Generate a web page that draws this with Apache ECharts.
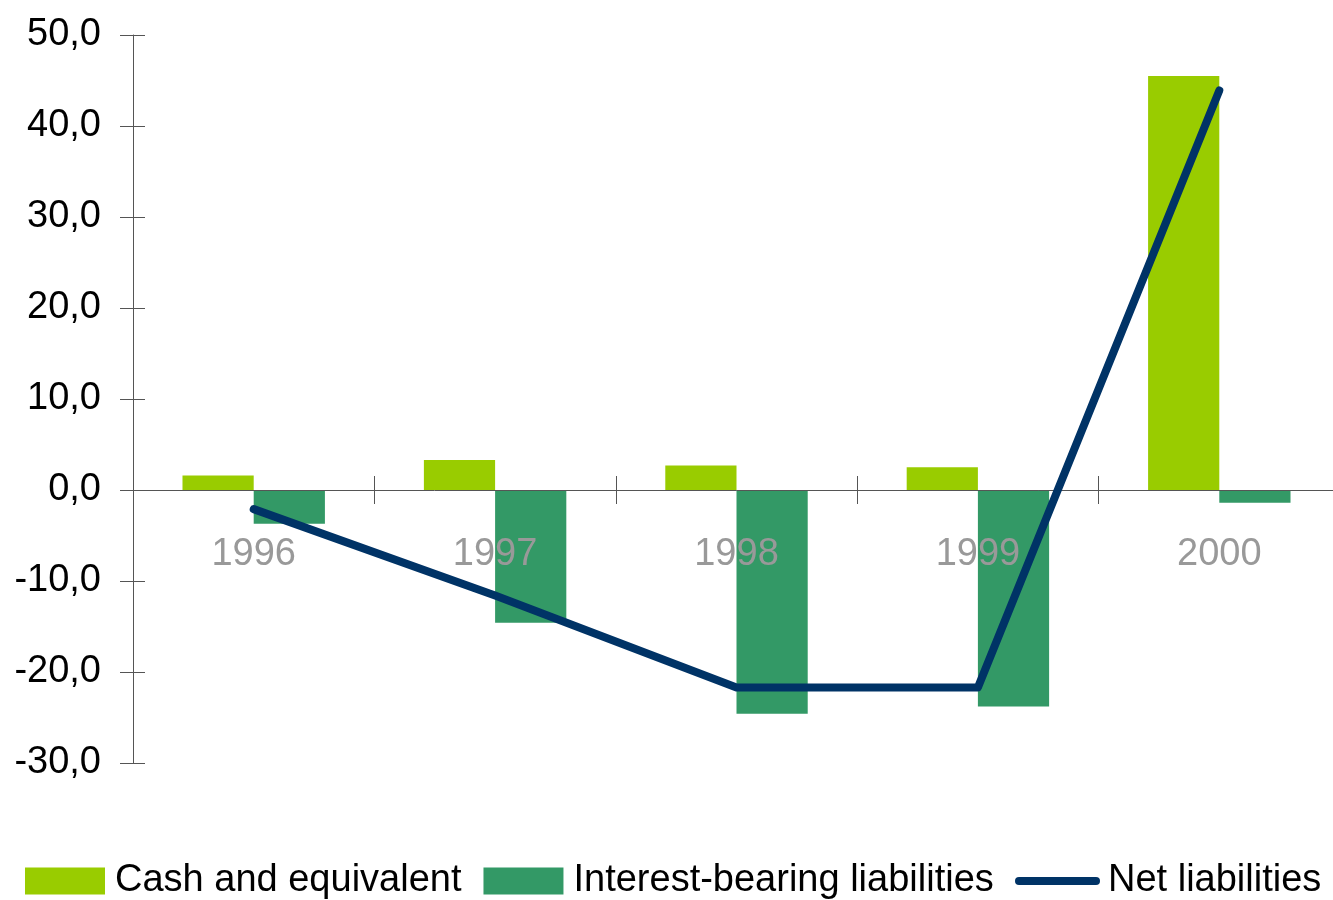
<!DOCTYPE html>
<html>
<head>
<meta charset="utf-8">
<script src="https://cdn.jsdelivr.net/npm/echarts@6/dist/echarts.min.js"></script>
<style>
  html, body { margin: 0; padding: 0; background: #fff; overflow: hidden; }
  #chart { width: 1340px; height: 900px; }
</style>
</head>
<body>
<div id="chart"></div>
<script>
// Years on the category axis
const years = ['1996', '1997', '1998', '1999', '2000'];
// Values per year
const cashAndEquivalent = [1.6, 3.3, 2.7, 2.5, 45.5];
const interestBearingLiabilities = [-3.7, -14.6, -24.6, -23.8, -1.4];
const netLiabilities = [-2.1, -11.6, -21.7, -21.7, 43.9];
// Value axis range
const yMin = -30, yMax = 50, yStep = 10;

const FONT = "'Liberation Sans', Arial, sans-serif";
const AXIS_COLOR = '#555555';
const GRID_TOP = 35, GRID_BOTTOM = 137, GRID_LEFT = 133;
const plotHeight = 900 - GRID_TOP - GRID_BOTTOM;
// Distances from the plot's top and bottom edges to the zero line
const zeroFromTop = plotHeight * yMax / (yMax - yMin);
const zeroFromBottom = plotHeight - zeroFromTop;

const chart = echarts.init(document.getElementById('chart'), null, { renderer: 'canvas' });

const fmt = v => v.toFixed(1).replace('.', ',');
const legendText = { fontFamily: FONT, fontSize: 38, color: '#000', padding: [0, 0, 0, 5] };

chart.setOption({
  animation: false,
  backgroundColor: '#ffffff',
  textStyle: { fontFamily: FONT },
  grid: { left: GRID_LEFT, right: 0, top: GRID_TOP, bottom: GRID_BOTTOM, containLabel: false },
  legend: [
    {
      top: 862,
      left: 25,
      padding: 0,
      itemWidth: 80,
      itemHeight: 27,
      itemGap: 22,
      icon: 'rect',
      textStyle: legendText,
      data: ['Cash and equivalent', 'Interest-bearing liabilities']
    },
    {
      top: 862,
      left: 1015,
      padding: 0,
      itemWidth: 85,
      itemHeight: 8,
      icon: 'path://M4,0 L81,0 A4,4 0 0 1 81,8 L4,8 A4,4 0 0 1 4,0 Z',
      itemStyle: { color: '#003366' },
      textStyle: Object.assign({}, legendText, { padding: [0, 0, 0, 3] }),
      data: ['Net liabilities']
    }
  ],
  xAxis: [
    {
      // category axis drawn along the zero line, labels below it, above the bars
      type: 'category',
      data: years,
      boundaryGap: true,
      position: 'bottom',
      offset: -zeroFromBottom,
      z: 3,
      axisLine: { show: true, onZero: false, lineStyle: { color: AXIS_COLOR, width: 1 } },
      axisTick: { show: true, length: 14, inside: false, lineStyle: { color: AXIS_COLOR } },
      axisLabel: { color: '#999999', fontFamily: FONT, fontSize: 38, margin: 46 },
      splitLine: { show: false }
    },
    {
      // upper half of the category ticks, sitting on the zero line
      type: 'category',
      data: years,
      boundaryGap: true,
      position: 'top',
      offset: -zeroFromTop,
      z: 3,
      axisLine: { show: false, onZero: false },
      axisTick: { show: true, length: 14, inside: false, lineStyle: { color: AXIS_COLOR } },
      axisLabel: { show: false },
      splitLine: { show: false }
    }
  ],
  yAxis: [
    {
      type: 'value',
      min: yMin, max: yMax, interval: yStep,
      axisLine: { show: true, onZero: false, lineStyle: { color: AXIS_COLOR, width: 1 } },
      axisTick: { show: true, length: 13, lineStyle: { color: AXIS_COLOR } },
      axisLabel: { color: '#000', fontFamily: FONT, fontSize: 38, margin: 32, formatter: fmt },
      splitLine: { show: false }
    },
    {
      type: 'value',
      min: yMin, max: yMax, interval: yStep,
      position: 'left',
      axisLine: { show: false, onZero: false },
      axisTick: { show: true, inside: true, length: 12, lineStyle: { color: AXIS_COLOR } },
      axisLabel: { show: false },
      splitLine: { show: false }
    }
  ],
  series: [
    {
      name: 'Cash and equivalent',
      type: 'bar',
      data: cashAndEquivalent,
      barGap: '0%',
      barCategoryGap: '41%',
      z: 2,
      itemStyle: { color: '#99CC00' }
    },
    {
      name: 'Interest-bearing liabilities',
      type: 'bar',
      data: interestBearingLiabilities,
      barGap: '0%',
      barCategoryGap: '41%',
      z: 2,
      itemStyle: { color: '#339966' }
    },
    {
      name: 'Net liabilities',
      type: 'line',
      data: netLiabilities,
      symbol: 'none',
      z: 5,
      lineStyle: { color: '#003366', width: 8, cap: 'round', join: 'round' },
      itemStyle: { color: '#003366' }
    }
  ]
});
</script>
</body>
</html>
